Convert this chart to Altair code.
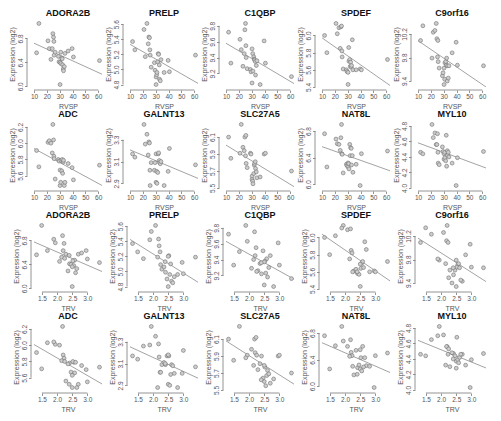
import altair as alt
import pandas as pd

# Patients (same subjects in every panel)
RVSP = [12.0, 13.8, 20.9, 21.9, 23.2, 24.2, 24.7, 25.2, 25.5, 25.7, 26.5, 29.0, 29.5, 30.3,
        30.3, 30.8, 31.0, 31.6, 32.0, 32.3, 32.8, 33.0, 33.6, 34.1, 36.6, 39.7, 40.7, 61.0]
TRV = [1.32, 1.49, 1.94, 1.68, 2.08, 2.20, 2.18, 1.89, 2.23, 2.15, 2.29, 2.25, 2.41, 2.46,
       2.50, 2.70, 2.55, 2.58, 2.52, 2.50, 2.36, 2.61, 2.65, 2.40, 2.81, 2.96, 3.00, 3.40]

ROW_A = ["ADORA2B", "PRELP", "C1QBP", "SPDEF", "C9orf16"]
ROW_B = ["ADC", "GALNT13", "SLC27A5", "NAT8L", "MYL10"]

ADORA2B = [6.56, 7.05, 6.76, 6.63, 6.45, 6.63, 6.88, 6.82, 6.75, 6.52, 6.57, 6.50, 6.41, 6.40,
           6.03, 6.57, 6.38, 6.47, 6.46, 6.36, 6.29, 6.26, 6.33, 6.55, 6.59, 6.63, 6.49, 6.43]
PRELP = [5.37, 5.26, 5.53, 5.17, 5.61, 5.34, 5.43, 5.42, 5.26, 5.19, 5.03, 5.09, 4.99, 4.90,
         4.80, 4.93, 4.96, 5.10, 5.21, 5.20, 5.06, 4.87, 4.85, 5.13, 4.96, 5.12, 4.97, 5.19]
C1QBP = [9.72, 9.33, 9.63, 9.50, 9.29, 9.45, 9.75, 9.83, 9.55, 9.40, 9.26, 9.25, 9.22, 9.51,
         9.08, 9.45, 9.23, 9.41, 9.38, 9.37, 9.35, 9.18, 9.30, 9.36, 9.06, 9.61, 9.33, 9.16]
SPDEF = [6.00, 5.80, 6.14, 6.02, 6.09, 5.85, 6.10, 6.11, 5.82, 5.75, 5.61, 5.60, 5.58, 5.57,
         5.43, 5.86, 5.70, 5.72, 5.64, 5.69, 5.63, 5.65, 5.95, 5.60, 5.60, 5.61, 5.60, 5.72]
C9ORF16 = [10.09, 10.34, 9.79, 10.23, 10.26, 10.38, 10.12, 9.81, 10.09, 9.73, 9.62, 9.49, 9.54, 9.62,
           9.34, 9.43, 9.71, 9.73, 9.67, 9.79, 9.40, 9.66, 9.45, 9.66, 9.88, 10.06, 9.67, 9.66]
ADC = [5.91, 5.71, 6.01, 6.03, 6.00, 5.88, 6.23, 6.04, 5.84, 5.81, 5.56, 5.80, 5.78, 5.67,
       5.48, 5.52, 5.79, 5.66, 5.80, 5.63, 5.77, 5.79, 5.48, 5.52, 5.75, 5.70, 5.55, 5.73]
GALNT13 = [3.17, 3.14, 3.44, 3.26, 3.35, 3.16, 3.28, 3.27, 3.02, 2.88, 3.09, 3.02, 3.09, 3.17,
           2.91, 3.01, 2.90, 3.00, 3.17, 3.18, 3.11, 3.09, 3.08, 3.10, 2.88, 3.01, 3.22, 3.07]
SLC27A5 = [6.10, 5.85, 5.91, 6.25, 5.98, 5.94, 6.10, 5.88, 6.12, 5.79, 5.74, 5.91, 5.90, 5.64,
           5.60, 5.58, 5.55, 5.67, 5.77, 5.79, 5.81, 5.73, 5.69, 5.62, 5.63, 5.90, 5.91, 5.70]
NAT8L = [6.76, 6.26, 6.68, 6.61, 6.60, 6.51, 6.70, 6.90, 6.46, 6.45, 6.17, 6.30, 6.28, 6.32,
         6.26, 6.31, 6.23, 6.60, 6.43, 6.55, 6.54, 6.29, 6.43, 6.18, 6.30, 5.98, 6.46, 6.50]
MYL10 = [4.46, 4.44, 4.82, 4.65, 4.71, 4.56, 4.56, 4.70, 4.46, 4.32, 4.30, 4.53, 4.47, 4.44,
         4.37, 4.46, 4.39, 4.35, 4.68, 4.28, 4.48, 4.42, 4.46, 4.40, 4.32, 4.03, 4.39, 4.47]

EXPR = {"ADORA2B": ADORA2B, "PRELP": PRELP, "C1QBP": C1QBP, "SPDEF": SPDEF, "C9orf16": C9ORF16,
        "ADC": ADC, "GALNT13": GALNT13, "SLC27A5": SLC27A5, "NAT8L": NAT8L, "MYL10": MYL10}

Y_TICKS = {"ADORA2B": [6.0, 6.4, 6.8], "PRELP": [4.8, 5.0, 5.2, 5.4, 5.6],
           "C1QBP": [9.2, 9.4, 9.6, 9.8], "SPDEF": [5.4, 5.6, 5.8, 6.0],
           "C9orf16": [9.4, 9.8, 10.2], "ADC": [5.6, 5.8, 6.0, 6.2],
           "GALNT13": [2.9, 3.1, 3.3], "SLC27A5": [5.5, 5.7, 5.9, 6.1],
           "NAT8L": [6.0, 6.4, 6.8], "MYL10": [4.0, 4.2, 4.4, 4.6, 4.8]}
X_TICKS = {"RVSP": [10, 20, 30, 40, 50, 60], "TRV": [1.5, 2.0, 2.5, 3.0]}

W, H = 68, 66
FONT = "Liberation Sans"
TXT = "#555555"
AX = "#7a7a7a"


def padded(vals, ticks):
    lo, hi = min(vals), max(vals)
    r = hi - lo
    return [min(lo - 0.04 * r, ticks[0]), max(hi + 0.04 * r, ticks[-1])]


def panel(gene, xname):
    xs = RVSP if xname == "RVSP" else TRV
    ys = EXPR[gene]
    df = pd.DataFrame({"x": xs, "y": ys})
    xt, yt = X_TICKS[xname], Y_TICKS[gene]
    xd, yd = padded(xs, xt), padded(ys, yt)
    yoff = 7 if xname == "RVSP" else 3
    xoff = 3
    common = dict(domain=False, grid=False, tickSize=2.5, tickColor=AX, tickWidth=0.8,
                  labelFontSize=6.5, labelColor=TXT, labelFont=FONT, labelPadding=1,
                  labelFlush=False, labelOverlap=False, titleFontSize=7,
                  titleFontWeight="normal", titleColor=TXT, titleFont=FONT, titlePadding=2)
    xaxis = alt.Axis(values=xt, format="d" if xname == "RVSP" else ".1f", title=xname,
                     offset=xoff, **common)
    yaxis = alt.Axis(values=yt, format=".1f", title="Expression (log2)", offset=yoff,
                     labelAngle=270, labelAlign="center", labelBaseline="bottom", **common)
    xenc = alt.X("x:Q", scale=alt.Scale(domain=xd, nice=False, zero=False), axis=xaxis)
    yenc = alt.Y("y:Q", scale=alt.Scale(domain=yd, nice=False, zero=False), axis=yaxis)
    base = alt.Chart(df).encode(x=xenc, y=yenc)
    fit = base.transform_regression("x", "y", extent=xd).mark_line(
        color="#8c8c8c", strokeWidth=0.8, clip=True)
    pts = base.mark_circle(size=15, fill="#cdcdcd", stroke="#707070", strokeWidth=0.6, opacity=1)
    # axis lines spanning first to last tick (R style)
    xl = pd.DataFrame({"x": [xt[0]], "x2": [xt[-1]]})
    yl = pd.DataFrame({"y": [yt[0]], "y2": [yt[-1]]})
    xline = alt.Chart(xl).mark_rule(color=AX, strokeWidth=0.8).encode(
        x=xenc, x2="x2:Q", y=alt.value(H + xoff))
    yline = alt.Chart(yl).mark_rule(color=AX, strokeWidth=0.8).encode(
        y=yenc, y2="y2:Q", x=alt.value(-yoff))
    return alt.layer(fit, pts, xline, yline).properties(
        width=W, height=H,
        title=alt.TitleParams(gene, fontSize=9, fontWeight="bold", font=FONT, color="#111111",
                              offset=2, anchor="middle"),
    )


panels = []
for xname, row in [("RVSP", ROW_A), ("RVSP", ROW_B), ("TRV", ROW_A), ("TRV", ROW_B)]:
    for g in row:
        panels.append(panel(g, xname))

chart = alt.concat(*panels, columns=5, spacing={"row": 35, "column": 28}, bounds="flush",
                   padding=0).configure_view(stroke=None)

chart.save("out.html", embed_options={"renderer": "svg", "actions": False})
